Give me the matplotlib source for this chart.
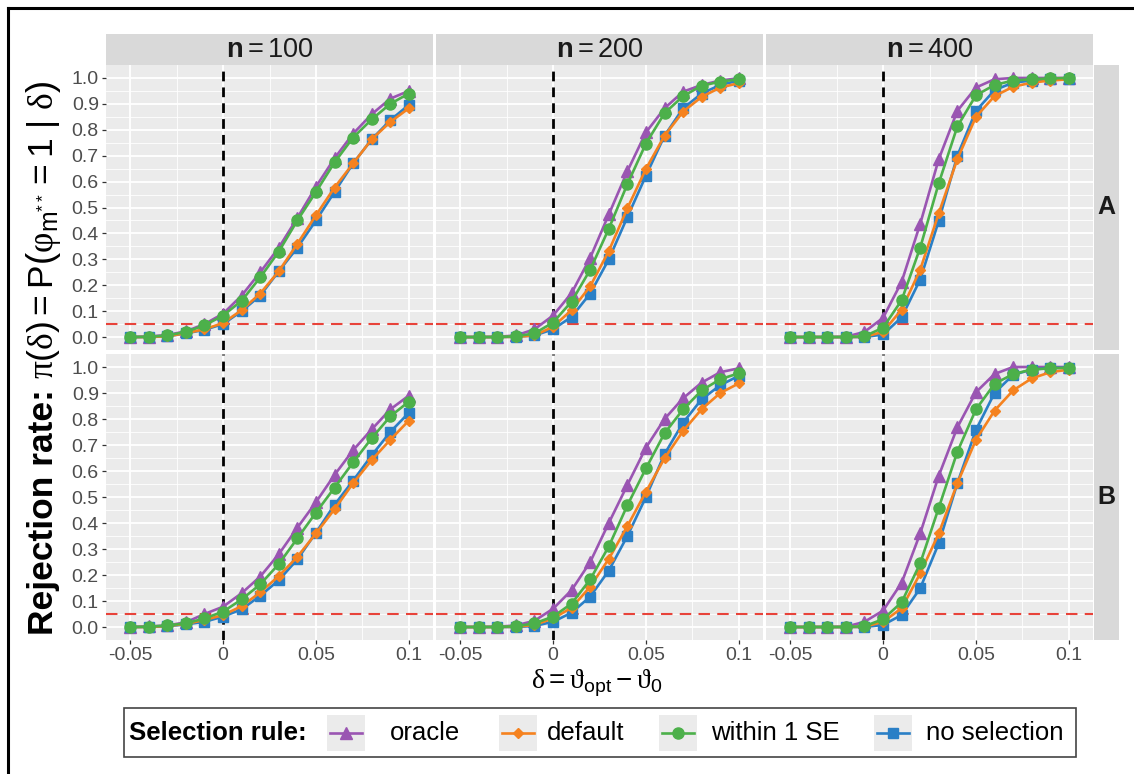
import matplotlib
matplotlib.use('Agg')
import matplotlib.pyplot as plt
from matplotlib.lines import Line2D
from matplotlib.patches import Rectangle

plt.rcParams['font.family'] = ['Liberation Sans', 'DejaVu Sans']
plt.rcParams['mathtext.fontset'] = 'custom'
plt.rcParams['mathtext.rm'] = 'Liberation Sans'
plt.rcParams['mathtext.bf'] = 'Liberation Sans:bold'
plt.rcParams['mathtext.it'] = 'Liberation Sans:italic'
plt.rcParams['mathtext.sf'] = 'Liberation Sans'
plt.rcParams['mathtext.tt'] = 'Liberation Serif'

# ---------------- data ----------------
delta = [-0.05, -0.04, -0.03, -0.02, -0.01, 0.0, 0.01, 0.02, 0.03, 0.04,
         0.05, 0.06, 0.07, 0.08, 0.09, 0.1]
n_values = ['100', '200', '400']
row_labels = ['A', 'B']
rules = ['oracle', 'default', 'within 1 SE', 'no selection']
x_ticks = [-0.05, 0.0, 0.05, 0.1]
x_ticklabels = ['-0.05', '0', '0.05', '0.1']
y_ticks = [0.0, 0.1, 0.2, 0.3, 0.4, 0.5, 0.6, 0.7, 0.8, 0.9, 1.0]
y_ticklabels = ['0.0', '0.1', '0.2', '0.3', '0.4', '0.5', '0.6', '0.7', '0.8', '0.9', '1.0']
alpha_level = 0.05

# Row A
a100_oracle = [0.0, 0.002, 0.008, 0.022, 0.05, 0.09, 0.16, 0.25, 0.345, 0.46, 0.58, 0.69, 0.785, 0.86, 0.92, 0.95]
a100_default = [0.0, 0.0, 0.003, 0.015, 0.03, 0.054, 0.104, 0.168, 0.254, 0.36, 0.47, 0.577, 0.67, 0.763, 0.83, 0.883]
a100_within = [0.0, 0.001, 0.006, 0.02, 0.045, 0.083, 0.14, 0.23, 0.33, 0.45, 0.56, 0.674, 0.77, 0.84, 0.90, 0.94]
a100_nosel = [0.0, 0.0, 0.003, 0.014, 0.028, 0.05, 0.10, 0.16, 0.254, 0.345, 0.45, 0.56, 0.67, 0.763, 0.837, 0.896]

a200_oracle = [0.0, 0.0, 0.001, 0.006, 0.03, 0.083, 0.17, 0.306, 0.473, 0.64, 0.79, 0.883, 0.947, 0.973, 0.99, 0.999]
a200_default = [0.0, 0.0, 0.0, 0.001, 0.006, 0.04, 0.104, 0.196, 0.332, 0.497, 0.649, 0.777, 0.87, 0.927, 0.963, 0.98]
a200_within = [0.0, 0.0, 0.0, 0.003, 0.014, 0.056, 0.137, 0.26, 0.418, 0.59, 0.747, 0.864, 0.93, 0.97, 0.986, 0.995]
a200_nosel = [0.0, 0.0, 0.0, 0.001, 0.006, 0.03, 0.078, 0.168, 0.30, 0.463, 0.623, 0.777, 0.883, 0.94, 0.973, 0.99]

a400_oracle = [0.0, 0.0, 0.0, 0.001, 0.02, 0.074, 0.213, 0.437, 0.687, 0.873, 0.963, 0.995, 1.0, 1.0, 1.0, 1.0]
a400_default = [0.0, 0.0, 0.0, 0.0, 0.001, 0.02, 0.106, 0.26, 0.478, 0.687, 0.85, 0.93, 0.966, 0.982, 0.99, 0.995]
a400_within = [0.0, 0.0, 0.0, 0.0, 0.003, 0.036, 0.142, 0.345, 0.594, 0.813, 0.933, 0.973, 0.99, 0.995, 0.998, 1.0]
a400_nosel = [0.0, 0.0, 0.0, 0.0, 0.0, 0.01, 0.076, 0.222, 0.449, 0.70, 0.873, 0.953, 0.982, 0.99, 0.995, 0.997]

# Row B
b100_oracle = [0.0, 0.002, 0.006, 0.018, 0.05, 0.078, 0.13, 0.194, 0.28, 0.382, 0.48, 0.585, 0.68, 0.76, 0.837, 0.89]
b100_default = [0.0, 0.0, 0.004, 0.012, 0.027, 0.046, 0.08, 0.133, 0.196, 0.27, 0.36, 0.453, 0.553, 0.642, 0.72, 0.794]
b100_within = [0.0, 0.001, 0.006, 0.014, 0.033, 0.059, 0.106, 0.164, 0.242, 0.341, 0.44, 0.536, 0.633, 0.726, 0.81, 0.867]
b100_nosel = [0.0, 0.0, 0.003, 0.01, 0.02, 0.04, 0.068, 0.12, 0.18, 0.26, 0.363, 0.47, 0.563, 0.66, 0.75, 0.824]

b200_oracle = [0.0, 0.0, 0.001, 0.006, 0.024, 0.07, 0.142, 0.25, 0.40, 0.546, 0.69, 0.80, 0.88, 0.94, 0.98, 0.995]
b200_default = [0.0, 0.0, 0.0, 0.001, 0.008, 0.033, 0.074, 0.155, 0.262, 0.388, 0.52, 0.649, 0.754, 0.838, 0.90, 0.937]
b200_within = [0.0, 0.0, 0.0, 0.003, 0.014, 0.04, 0.09, 0.183, 0.31, 0.468, 0.61, 0.745, 0.837, 0.91, 0.953, 0.976]
b200_nosel = [0.0, 0.0, 0.0, 0.0, 0.004, 0.02, 0.055, 0.117, 0.217, 0.35, 0.50, 0.665, 0.786, 0.876, 0.93, 0.966]

b400_oracle = [0.0, 0.0, 0.0, 0.001, 0.02, 0.063, 0.17, 0.36, 0.582, 0.768, 0.903, 0.973, 1.0, 1.0, 1.0, 1.0]
b400_default = [0.0, 0.0, 0.0, 0.0, 0.001, 0.02, 0.072, 0.206, 0.36, 0.553, 0.72, 0.832, 0.91, 0.956, 0.98, 0.99]
b400_within = [0.0, 0.0, 0.0, 0.0, 0.003, 0.03, 0.095, 0.245, 0.459, 0.674, 0.837, 0.935, 0.973, 0.99, 0.995, 0.997]
b400_nosel = [0.0, 0.0, 0.0, 0.0, 0.0, 0.008, 0.046, 0.149, 0.322, 0.553, 0.758, 0.90, 0.97, 0.99, 0.997, 0.997]

panel_data = [
    [
        {'oracle': a100_oracle, 'default': a100_default, 'within 1 SE': a100_within, 'no selection': a100_nosel},
        {'oracle': a200_oracle, 'default': a200_default, 'within 1 SE': a200_within, 'no selection': a200_nosel},
        {'oracle': a400_oracle, 'default': a400_default, 'within 1 SE': a400_within, 'no selection': a400_nosel},
    ],
    [
        {'oracle': b100_oracle, 'default': b100_default, 'within 1 SE': b100_within, 'no selection': b100_nosel},
        {'oracle': b200_oracle, 'default': b200_default, 'within 1 SE': b200_within, 'no selection': b200_nosel},
        {'oracle': b400_oracle, 'default': b400_default, 'within 1 SE': b400_within, 'no selection': b400_nosel},
    ],
]

# ---------------- style ----------------
colors = {'oracle': '#9a55b2', 'default': '#f5821f', 'within 1 SE': '#4cb04a', 'no selection': '#2a7fc6'}
markers = {'oracle': '^', 'default': 'D', 'within 1 SE': 'o', 'no selection': 's'}
msizes = {'oracle': 9.0, 'default': 5.6, 'within 1 SE': 8.0, 'no selection': 7.4}
zorders = {'oracle': 3, 'no selection': 4, 'default': 5, 'within 1 SE': 6}

W, H = 1134, 774
fig = plt.figure(figsize=(W / 100, H / 100), dpi=100)
fig.patch.set_facecolor('white')


def fx(px):
    return px / W


def fy(py):
    return 1 - py / H


cols_px = [(106, 433), (436, 763), (766, 1093)]
rows_px = [(65, 350), (354, 640)]
tick_color = '#4D4D4D'

for r, (y0, y1) in enumerate(rows_px):
    for c, (x0, x1) in enumerate(cols_px):
        ax = fig.add_axes([fx(x0), fy(y1), (x1 - x0) / W, (y1 - y0) / H])
        ax.set_facecolor('#EBEBEB')
        for s in ax.spines.values():
            s.set_visible(False)
        ax.set_xlim(-0.063, 0.113)
        ax.set_ylim(-0.05, 1.05)
        ax.set_xticks(x_ticks)
        ax.set_xticks([-0.025, 0.025, 0.075], minor=True)
        ax.set_yticks(y_ticks)
        ax.set_yticks([0.05 + 0.1 * k for k in range(10)], minor=True)
        ax.grid(which='major', color='white', lw=1.3, zorder=0)
        ax.grid(which='minor', color='white', lw=0.6, zorder=0)
        ax.set_axisbelow(True)
        ax.tick_params(which='minor', length=0)
        ax.tick_params(which='major', length=3.2, width=0.9, color='#333333',
                       labelsize=14, labelcolor=tick_color, pad=2)
        if c == 0:
            ax.set_yticklabels(y_ticklabels)
        else:
            ax.tick_params(axis='y', length=0, labelleft=False)
        if r == 1:
            ax.set_xticklabels(x_ticklabels)
        else:
            ax.tick_params(axis='x', length=0, labelbottom=False)

        ax.axvline(0, color='black', lw=2.0, ls=(0, (3.5, 2.2)), zorder=1.5)
        ax.axhline(alpha_level, color='#e8433a', lw=1.5, ls=(0, (5.5, 3.5)), zorder=1.5)

        for rule in ['oracle', 'no selection', 'default', 'within 1 SE']:
            ax.plot(delta, panel_data[r][c][rule], color=colors[rule], lw=1.9,
                    marker=markers[rule], ms=msizes[rule], mec=colors[rule],
                    zorder=zorders[rule], clip_on=False)

        # top strip
        if r == 0:
            sax = fig.add_axes([fx(x0), fy(65), (x1 - x0) / W, 31 / H])
            sax.set_facecolor('#D9D9D9')
            sax.set_xticks([]); sax.set_yticks([])
            for s in sax.spines.values():
                s.set_visible(False)
            sax.text(0.5, 0.47, r'$\mathbf{n} = ' + n_values[c] + '$', transform=sax.transAxes,
                     ha='center', va='center', fontsize=19.5, color='#1A1A1A')
    # right strip
    rax = fig.add_axes([fx(1094), fy(y1), 25 / W, (y1 - y0) / H])
    rax.set_facecolor('#D9D9D9')
    rax.set_xticks([]); rax.set_yticks([])
    for s in rax.spines.values():
        s.set_visible(False)
    rax.text(0.5, 0.5, row_labels[r], transform=rax.transAxes, ha='center', va='center',
             fontsize=18, fontweight='bold', color='#1A1A1A')

# x label
fig.text(fx(597), fy(683),
         r'$\mathtt{\delta} = \mathtt{\vartheta}_{\mathrm{opt}} - \mathtt{\vartheta}_{0}$',
         ha='center', va='center', fontsize=20, color='black')

# y label (two pieces, baseline-aligned)
x_base = fx(53)
ysize = 25.5
t1 = fig.text(x_base, 0.1, 'Rejection rate:', rotation=90, rotation_mode='anchor',
              ha='left', va='baseline', fontsize=ysize, fontweight='bold')
t2 = fig.text(x_base, 0.5,
              r'$\mathtt{\pi}(\mathtt{\delta}) = \mathrm{P}\left(\mathtt{\varphi}_{\mathrm{m}^{**}} = 1\ |\ \mathtt{\delta}\right)$',
              rotation=90, rotation_mode='anchor', ha='left', va='baseline', fontsize=ysize)
fig.canvas.draw()
rend = fig.canvas.get_renderer()
h1 = t1.get_window_extent(rend).height
h2 = t2.get_window_extent(rend).height
gap = 10
yc = H - 358
bottom = yc - (h1 + gap + h2) / 2
t1.set_y(bottom / H)
t2.set_y((bottom + h1 + gap) / H)

# legend (ggplot-style, horizontal)
fig.add_artist(Rectangle((fx(124), fy(757)), (1076 - 124) / W, (757 - 708) / H,
                         transform=fig.transFigure, facecolor='white', edgecolor='#444444', lw=1.2))
ly = fy(733)
fig.text(fx(129), ly, 'Selection rule:', ha='left', va='center', fontsize=18.5, fontweight='bold')
key_cx = [346, 518, 678, 893]
label_x = [390, 547, 711, 926]
for rule, kx, tx in zip(rules, key_cx, label_x):
    fig.add_artist(Rectangle((fx(kx - 19), fy(751)), 38 / W, 36 / H, transform=fig.transFigure,
                             facecolor='#EBEBEB', edgecolor='none'))
    fig.add_artist(Line2D([fx(kx - 16), fx(kx + 16)], [ly, ly], transform=fig.transFigure,
                          color=colors[rule], lw=1.9))
    fig.add_artist(Line2D([fx(kx)], [ly], transform=fig.transFigure, color=colors[rule],
                          marker=markers[rule], ms=msizes[rule], mec=colors[rule], ls='none'))
    fig.text(fx(tx), ly, rule, ha='left', va='center', fontsize=18.5)

# outer frame (top and left edges visible)
fig.add_artist(Line2D([fx(8), fx(8)], [0, fy(8)], transform=fig.transFigure, color='black', lw=2.2))
fig.add_artist(Line2D([fx(8), 1], [fy(8), fy(8)], transform=fig.transFigure, color='black', lw=2.2))

fig.savefig('out.png', dpi=100)
